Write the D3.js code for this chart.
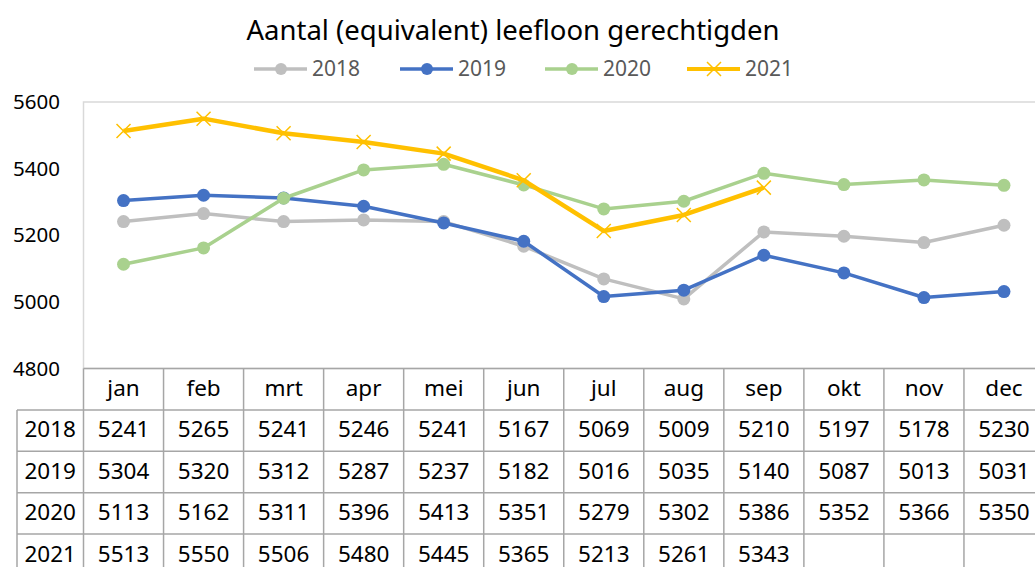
<!DOCTYPE html>
<html>
<head>
<meta charset="utf-8">
<script src="https://cdn.jsdelivr.net/npm/d3@7"></script>
<style>
	body { margin: 0; background: #fff; }
	svg { display: block; font-family: "Noto Sans", "Open Sans", sans-serif; }
</style>
</head>
<body>
<div id="chart"></div>
<script>
// data
var months = ['jan', 'feb', 'mrt', 'apr', 'mei', 'jun', 'jul', 'aug', 'sep', 'okt', 'nov', 'dec']
var years = ['2018', '2019', '2020', '2021']
var values2018 = [5241, 5265, 5241, 5246, 5241, 5167, 5069, 5009, 5210, 5197, 5178, 5230]
var values2019 = [5304, 5320, 5312, 5287, 5237, 5182, 5016, 5035, 5140, 5087, 5013, 5031]
var values2020 = [5113, 5162, 5311, 5396, 5413, 5351, 5279, 5302, 5386, 5352, 5366, 5350]
var values2021 = [5513, 5550, 5506, 5480, 5445, 5365, 5213, 5261, 5343]
var yTicks = [4800, 5000, 5200, 5400, 5600]
var colors = ['#BFBFBF', '#4472C4', '#A9D18E', '#FFC000']

var width = 1035
var height = 567

var series = years.map(function(y, i) {
	return { year: y, values: [values2018, values2019, values2020, values2021][i], color: colors[i] }
})

var svg = d3.select('#chart').append('svg')
	.attr('width', width)
	.attr('height', height)

var plotLeft = 83.5
var plotRight = 1044
var plotTop = 102
var plotBottom = 368.5
var rowH = 41.4

var x = d3.scaleBand().domain(months).range([plotLeft, plotRight])
var y = d3.scaleLinear().domain([4800, 5600]).range([plotBottom, plotTop])

function cx(m) { return x(m) + x.bandwidth() / 2 }

// title
svg.append('text')
	.attr('x', 513)
	.attr('y', 40)
	.attr('text-anchor', 'middle')
	.style('font-size', '27.5px')
	.style('fill', '#000')
	.text('Aantal (equivalent) leefloon gerechtigden')

// legend
var legendX = [254, 400, 545, 687]
var legend = svg.selectAll('.legend')
	.data(series)
	.enter().append('g')
		.attr('class', 'legend')
		.attr('transform', function(d, i) { return 'translate(' + legendX[i] + ',69)' })

legend.append('line')
	.attr('x1', 0).attr('x2', 53)
	.attr('stroke', function(d) { return d.color })
	.attr('stroke-width', function(d, i) { return i === 3 ? 4 : 3.5 })

legend.each(function(d, i) {
	var g = d3.select(this)
	if (i === 3) {
		g.append('path')
			.attr('d', 'M20,-7L34,7M20,7L34,-7')
			.attr('stroke', d.color).attr('stroke-width', 1.5).attr('fill', 'none')
	} else {
		g.append('circle').attr('cx', 27).attr('r', 6).attr('fill', d.color)
	}
})

legend.append('text')
	.attr('x', 58)
	.attr('dy', '0.35em')
	.style('font-size', '21px')
	.style('fill', '#595959')
	.text(function(d) { return d.year })

// plot area border
svg.append('rect')
	.attr('x', plotLeft)
	.attr('y', plotTop)
	.attr('width', plotRight - plotLeft)
	.attr('height', plotBottom - plotTop)
	.attr('fill', 'none')
	.attr('stroke', '#D9D9D9')
	.attr('stroke-width', 1.5)

// y axis labels
svg.selectAll('.ytick')
	.data(yTicks)
	.enter().append('text')
		.attr('class', 'ytick')
		.attr('x', 60)
		.attr('y', function(d) { return y(d) })
		.attr('dy', '0.35em')
		.attr('text-anchor', 'end')
		.style('font-size', '20.5px')
		.style('fill', '#000')
		.text(function(d) { return d })

// lines
var line = d3.line()
	.x(function(d, i) { return cx(months[i]) })
	.y(function(d) { return y(d) })

var item = svg.selectAll('.series')
	.data(series)
	.enter().append('g')
		.attr('class', 'series')

item.append('path')
	.attr('d', function(d) { return line(d.values) })
	.attr('fill', 'none')
	.attr('stroke', function(d) { return d.color })
	.attr('stroke-width', function(d, i) { return i === 3 ? 4.5 : 3.5 })
	.attr('stroke-linejoin', 'round')

item.each(function(d, si) {
	var g = d3.select(this)
	var pts = g.selectAll('.pt')
		.data(d.values)
		.enter().append('g')
			.attr('class', 'pt')
			.attr('transform', function(v, i) { return 'translate(' + cx(months[i]) + ',' + y(v) + ')' })
	if (si === 3) {
		pts.append('path')
			.attr('d', 'M-7,-7L7,7M-7,7L7,-7')
			.attr('stroke', d.color).attr('stroke-width', 1.5).attr('fill', 'none')
	} else {
		pts.append('circle').attr('r', 6.5).attr('fill', d.color)
	}
})

// data table
var table = svg.append('g').attr('class', 'table')
var gridColor = '#A6A6A6'
var labelLeft = 17
var tableBottom = plotBottom + rowH * 5

// header top line and row lines
table.append('line')
	.attr('x1', plotLeft).attr('x2', width)
	.attr('y1', plotBottom).attr('y2', plotBottom)
	.attr('stroke', gridColor).attr('stroke-width', 1.5)

d3.range(1, 6).forEach(function(r) {
	table.append('line')
		.attr('x1', labelLeft).attr('x2', width)
		.attr('y1', plotBottom + rowH * r).attr('y2', plotBottom + rowH * r)
		.attr('stroke', gridColor).attr('stroke-width', 1.5)
})

// vertical lines
table.append('line')
	.attr('x1', labelLeft).attr('x2', labelLeft)
	.attr('y1', plotBottom + rowH).attr('y2', tableBottom)
	.attr('stroke', gridColor).attr('stroke-width', 1.5)

months.forEach(function(m) {
	table.append('line')
		.attr('x1', x(m)).attr('x2', x(m))
		.attr('y1', plotBottom).attr('y2', tableBottom)
		.attr('stroke', gridColor).attr('stroke-width', 1.5)
})

// month header
table.selectAll('.month')
	.data(months)
	.enter().append('text')
		.attr('class', 'month')
		.attr('x', function(d) { return cx(d) })
		.attr('y', plotBottom + rowH / 2 - 1)
		.attr('dy', '0.35em')
		.attr('text-anchor', 'middle')
		.style('font-size', '22.5px')
		.text(function(d) { return d })

// rows
series.forEach(function(s, r) {
	var rowY = plotBottom + rowH * (r + 1.5) - 1
	table.append('text')
		.attr('x', (labelLeft + plotLeft) / 2)
		.attr('y', rowY)
		.attr('dy', '0.35em')
		.attr('text-anchor', 'middle')
		.style('font-size', '22.5px')
		.text(s.year)
	table.selectAll('.v' + s.year)
		.data(s.values)
		.enter().append('text')
			.attr('x', function(d, i) { return cx(months[i]) })
			.attr('y', rowY)
			.attr('dy', '0.35em')
			.attr('text-anchor', 'middle')
			.style('font-size', '22.5px')
			.text(function(d) { return d })
})
</script>
</body>
</html>
